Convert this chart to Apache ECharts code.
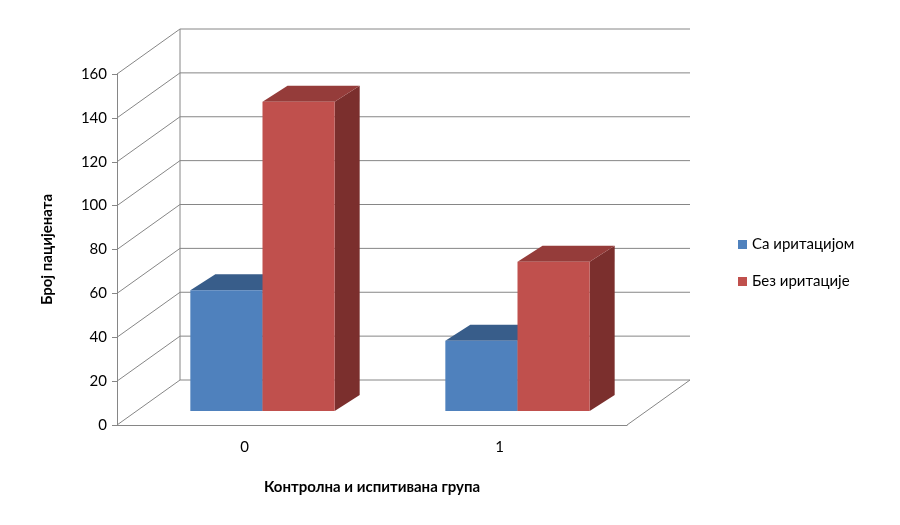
<!DOCTYPE html>
<html><head><meta charset="utf-8">
<script src="https://cdn.jsdelivr.net/npm/echarts@6/dist/echarts.min.js"></script>
<style>html,body{margin:0;background:#fff}#c{width:900px;height:525px}</style>
</head><body><div id="c"></div>
<script>
const categories = ['0', '1'];
const seriesNames = ['Са иритацијом', 'Без иритације'];
const withIrritation = [55, 32];
const withoutIrritation = [141, 68];
const yTicks = [0, 20, 40, 60, 80, 100, 120, 140, 160];

const DX = 63, DY = -45;      // wall depth
const BX = 18, BY = -14;      // bar front plane offset
const SX = 25, SY = -16;      // bar depth
const faces = [
  {front:'#4F81BD', top:'#385D8A', side:'#2F4F75'},
  {front:'#C0504D', top:'#953C3A', side:'#7B2F2D'}
];

function barItem(si) {
  return function (params, api) {
    const cat = api.value(0), v = api.value(1);
    const band = api.size([1, 0])[0];
    const c = api.coord([cat, 0]);
    const t = api.coord([cat, v]);
    const w = band * 0.283;
    const x0 = c[0] + BX + (si === 0 ? -w : 0), x1 = x0 + w;
    const yb = c[1] + BY, yt = t[1] + BY;
    const f = faces[si];
    return {type:'group', children:[
      {type:'polygon', shape:{points:[[x1,yt],[x1+SX,yt+SY],[x1+SX,yb+SY],[x1,yb]]}, style:{fill:f.side}},
      {type:'polygon', shape:{points:[[x0,yt],[x0+SX,yt+SY],[x1+SX,yt+SY],[x1,yt]]}, style:{fill:f.top}},
      {type:'rect', shape:{x:x0, y:yt, width:w, height:yb-yt}, style:{fill:f.front}}
    ]};
  };
}

function gridItem(params, api) {
  const v = api.value(1);
  const band = api.size([1, 0])[0];
  const p = api.coord([0, v]);
  const left = p[0] - band / 2, right = left + band * categories.length;
  const y = p[1];
  const ch = [{type:'polyline', shape:{points:[[left,y],[left+DX,y+DY],[right+DX,y+DY]]},
    style:{stroke:'#868686', lineWidth:1, fill:null}}];
  if (v === 0) {
    const top = api.coord([0, yTicks[yTicks.length-1]])[1];
    ch.push({type:'line', shape:{x1:right,y1:y,x2:right+DX,y2:y+DY}, style:{stroke:'#868686', lineWidth:1}});
    ch.push({type:'line', shape:{x1:left+DX,y1:y+DY,x2:left+DX,y2:top+DY}, style:{stroke:'#868686', lineWidth:1}});
  }
  return {type:'group', children:ch};
}

const chart = echarts.init(document.getElementById('c'));
chart.setOption({
  animation:false,
  textStyle:{fontFamily:'Lato, "Open Sans", sans-serif'},
  grid:{left:117, right:273, top:74, bottom:100},
  legend:{data:seriesNames, orient:'vertical', left:733, top:232, itemGap:22,
    itemWidth:9, itemHeight:9, icon:'rect',
    textStyle:{fontSize:15, color:'#000', fontFamily:'Lato, sans-serif'}},
  xAxis:{type:'category', data:categories, name:'Контролна и испитивана група',
    nameLocation:'middle', nameGap:55,
    nameTextStyle:{fontWeight:'bold', fontSize:15, color:'#000'},
    axisLine:{lineStyle:{color:'#868686'}}, axisTick:{length:6, lineStyle:{color:'#868686'}},
    axisLabel:{fontSize:15, color:'#000', margin:15}},
  yAxis:{type:'value', min:0, max:160, interval:20, name:'Број пацијената',
    nameLocation:'middle', nameGap:62, nameRotate:90,
    nameTextStyle:{fontWeight:'bold', fontSize:15, color:'#000'},
    axisLine:{show:true, lineStyle:{color:'#868686'}},
    axisTick:{show:true, length:5, lineStyle:{color:'#868686'}},
    splitLine:{show:false},
    axisLabel:{fontSize:15, color:'#000', margin:10}},
  series:[
    {type:'custom', name:'grid', silent:true, clip:false, z:1,
     data:yTicks.map(v=>[0,v]), encode:{x:0,y:1}, renderItem:gridItem},
    {type:'custom', name:seriesNames[0], clip:false, z:2, itemStyle:{color:faces[0].front},
     data:withIrritation.map((v,i)=>[i,v]), encode:{x:0,y:1}, renderItem:barItem(0)},
    {type:'custom', name:seriesNames[1], clip:false, z:2, itemStyle:{color:faces[1].front},
     data:withoutIrritation.map((v,i)=>[i,v]), encode:{x:0,y:1}, renderItem:barItem(1)}
  ]
});
</script></body></html>
